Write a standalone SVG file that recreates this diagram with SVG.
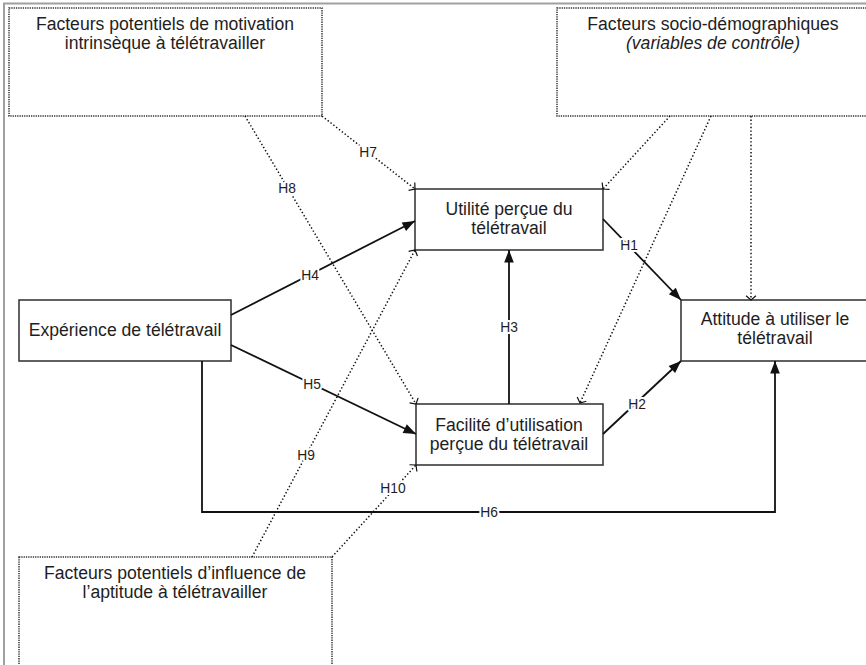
<svg xmlns="http://www.w3.org/2000/svg" width="866" height="665" viewBox="0 0 866 665">
<defs>
<style>
.frame{fill:none;stroke:#a0a0a0;stroke-width:2}
.box{fill:#fff;stroke:#3a3a3a;stroke-width:1.6}
.dbox{fill:#fff;stroke:#333;stroke-width:1.5;stroke-dasharray:1.3 1}
.t{font-family:"Liberation Sans",Arial,sans-serif;font-size:17.6px;fill:#1e1e1e;text-anchor:middle}
.it{font-style:italic}
.arr{fill:none;stroke:#111;stroke-width:1.8;marker-end:url(#ah)}
.dot{fill:none;stroke:#111;stroke-width:1.5;stroke-dasharray:1.4 2.2;marker-end:url(#oh)}
.lab{font-family:"Liberation Sans",Arial,sans-serif;font-size:13.8px;fill:#1e1e1e;text-anchor:middle;stroke:#fff;stroke-width:4;paint-order:stroke;stroke-linejoin:round}
</style>
<marker id="ah" viewBox="-13 -6 14 12" refX="0" refY="0" markerWidth="14" markerHeight="12" markerUnits="userSpaceOnUse" orient="auto">
<path d="M0,0 L-12.5,-4.8 L-12.5,4.8 Z" fill="#111" stroke="none"/>
</marker>
<marker id="oh" viewBox="-8 -8 10 16" refX="0" refY="0" markerWidth="10" markerHeight="16" markerUnits="userSpaceOnUse" orient="auto">
<path d="M-4.2,-5 L0,0 L-4.2,5" fill="none" stroke="#111" stroke-width="1.2" stroke-dasharray="none"/>
</marker>
</defs>
<rect width="866" height="665" fill="#fff"/>
<path class="frame" d="M4,667 L4,3.5 L868,3.5"/>

<g id="motivation">
<rect class="dbox" x="9" y="8" width="313" height="108"/>
<text class="t" x="165" y="30">Facteurs potentiels de motivation</text>
<text class="t" x="165" y="49">intrinsèque à télétravailler</text>
</g>
<g id="socio">
<rect class="dbox" x="557" y="8" width="320" height="108"/>
<text class="t" x="713" y="30">Facteurs socio-démographiques</text>
<text class="t it" x="713" y="49">(variables de contrôle)</text>
</g>
<g id="aptitude">
<rect class="dbox" x="19" y="557" width="313" height="120"/>
<text class="t" x="175" y="579">Facteurs potentiels d’influence de</text>
<text class="t" x="175" y="598">l’aptitude à télétravailler</text>
</g>
<g id="experience">
<rect class="box" x="19" y="300" width="212" height="61"/>
<text class="t" x="125" y="336">Expérience de télétravail</text>
</g>
<g id="utilite">
<rect class="box" x="415" y="189" width="188" height="61"/>
<text class="t" x="509" y="215">Utilité perçue du</text>
<text class="t" x="509" y="234">télétravail</text>
</g>
<g id="facilite">
<rect class="box" x="416" y="404" width="187" height="61"/>
<text class="t" x="509" y="431">Facilité d’utilisation</text>
<text class="t" x="509" y="450">perçue du télétravail</text>
</g>
<g id="attitude">
<rect class="box" x="681" y="300" width="196" height="61"/>
<text class="t" x="775" y="325">Attitude à utiliser le</text>
<text class="t" x="775" y="344">télétravail</text>
</g>

<g id="connectors">
<line class="dot" x1="322" y1="116" x2="415" y2="189"/>
<line class="dot" x1="245" y1="116" x2="416" y2="404"/>
<line class="dot" x1="670" y1="116" x2="603" y2="189"/>
<line class="dot" x1="711" y1="116" x2="580" y2="403"/>
<line class="dot" x1="751" y1="116" x2="751" y2="300"/>
<line class="dot" x1="252" y1="557" x2="415" y2="250"/>
<line class="dot" x1="332" y1="557" x2="416" y2="465"/>
<line class="arr" x1="231" y1="315" x2="415" y2="221"/>
<line class="arr" x1="231" y1="345" x2="416" y2="434"/>
<line class="arr" x1="509" y1="404" x2="509" y2="250"/>
<line class="arr" x1="603" y1="219" x2="681" y2="300"/>
<line class="arr" x1="603" y1="434" x2="681" y2="361"/>
<path class="arr" d="M202,361 L202,512 L775,512 L775,361"/>
<text class="lab" x="368" y="157">H7</text>
<text class="lab" x="287" y="193">H8</text>
<text class="lab" x="310" y="280">H4</text>
<text class="lab" x="312" y="389">H5</text>
<text class="lab" x="509" y="332">H3</text>
<text class="lab" x="629" y="250">H1</text>
<text class="lab" x="637" y="409">H2</text>
<text class="lab" x="306" y="460">H9</text>
<text class="lab" x="393" y="493">H10</text>
<text class="lab" x="489" y="517">H6</text>
</g>
</svg>
